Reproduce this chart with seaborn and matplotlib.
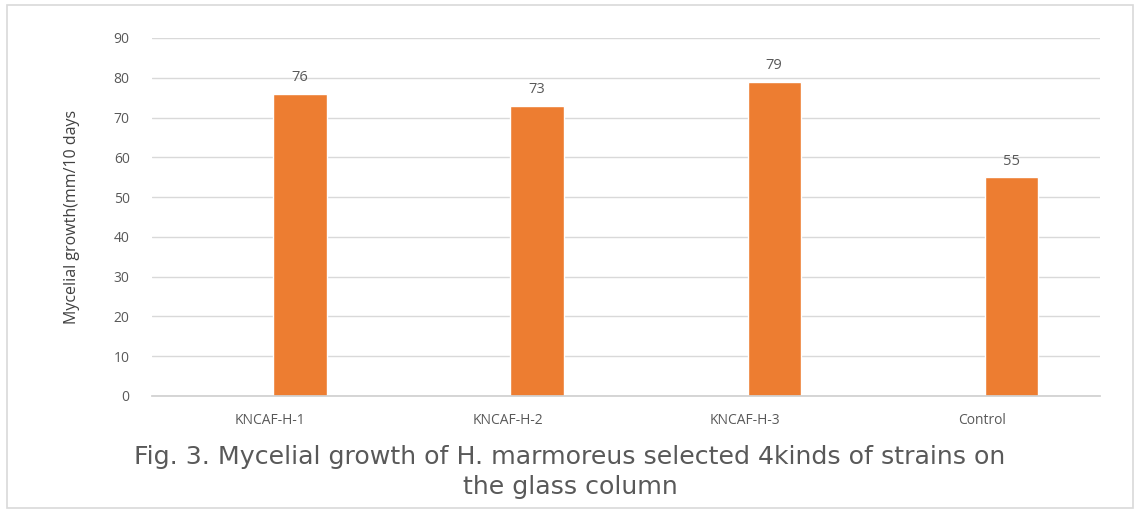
import pandas as pd
import matplotlib
matplotlib.use("Agg")
import matplotlib.pyplot as plt
import seaborn as sns
from matplotlib.patches import Rectangle

# values
strains = ["KNCAF-H-1", "KNCAF-H-2", "KNCAF-H-3", "Control"]
growth = [76, 73, 79, 55]
# the source chart was a clustered bar with an empty first series
series = ["empty", "growth"]

ylabel = "Mycelial growth(mm/10 days"
caption = ("Fig. 3. Mycelial growth of H. marmoreus selected 4kinds of strains on\n"
           "the glass column")

df = pd.DataFrame({
    "strain": strains * 2,
    "series": [series[0]] * len(strains) + [series[1]] * len(strains),
    "value": [0] * len(strains) + growth,
})

sns.set_theme(style="white")
plt.rcParams["font.family"] = ["Open Sans", "DejaVu Sans"]

grey = "#595959"
fig = plt.figure(figsize=(11.4, 5.12), dpi=100)
ax = fig.add_axes([0.1333, 0.2266, 0.8317, 0.6992])

sns.barplot(data=df, x="strain", y="value", hue="series", hue_order=series,
            palette={"empty": "#ED7D31", "growth": "#ED7D31"}, saturation=1,
            width=0.5, gap=0.1, legend=False, ax=ax, order=strains)

ax.bar_label(ax.containers[1], labels=[str(v) for v in growth],
             padding=6, fontsize=10.5, color=grey)

ax.set_ylim(0, 90)
ax.set_yticks(range(0, 91, 10))
ax.yaxis.grid(True, color="#d9d9d9", linewidth=1)
ax.set_axisbelow(True)
for s in ["top", "right", "left"]:
    ax.spines[s].set_visible(False)
ax.spines["bottom"].set_color("#d0d0d0")
ax.tick_params(axis="both", length=0, labelsize=10, colors=grey)
ax.tick_params(axis="y", pad=16)
ax.tick_params(axis="x", pad=12)
ax.set_xlabel("")
ax.set_ylabel(ylabel, fontsize=11.5, color="#404040", labelpad=24)

fig.text(0.5, 0.078, caption, ha="center", va="center", fontsize=18.2,
         color=grey, linespacing=1.3, family=["DejaVu Sans"])

fig.patches.append(Rectangle((0.006, 0.008), 0.988, 0.982, transform=fig.transFigure,
                             fill=False, edgecolor="#d9d9d9", linewidth=1.2))

fig.savefig("out.png", dpi=100)
